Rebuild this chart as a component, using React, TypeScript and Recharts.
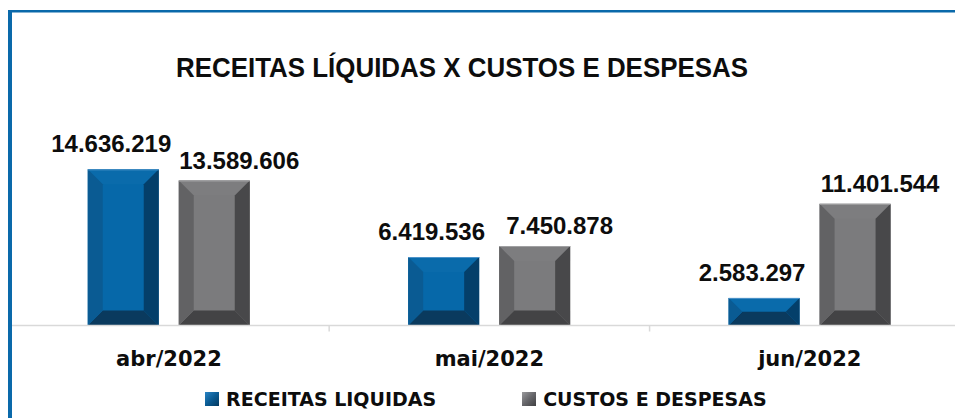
import React from 'react';
import { BarChart, Bar, XAxis, YAxis, Legend, LabelList } from 'recharts';

const categories = ['abr/2022', 'mai/2022', 'jun/2022'];
const receitasLiquidas = [14636219, 6419536, 2583297];
const custosDespesas = [13589606, 7450878, 11401544];
const seriesNames = ['RECEITAS LIQUIDAS', 'CUSTOS E DESPESAS'];
const chartTitle = 'RECEITAS LÍQUIDAS X CUSTOS E DESPESAS';
const yDomain = [0, 16000000];

const data = categories.map((cat, i) => ({
  cat,
  receitas: receitasLiquidas[i],
  custos: custosDespesas[i],
}));

const W = 980;
const H = 418;
const M = { top: 154.8, right: 10, left: 8.75, bottom: 4 };
const PLOT_W = W - M.left - M.right;
const BAND = PLOT_W / categories.length;

const BLUE = {
  face: '#0668A9',
  top: '#0A6BAB',
  left: '#0A5B93',
  right: '#043F6A',
  bottom: '#0A3A5E',
  edge: '#4D93C9',
  legend: 'linear-gradient(135deg, #2A84C4 0%, #0A5B93 50%, #043A60 100%)',
};
const GRAY = {
  face: '#7B7B7D',
  top: '#7D7D7F',
  left: '#626264',
  right: '#48484A',
  bottom: '#434345',
  edge: '#A0A0A2',
  legend: 'linear-gradient(135deg, #9A9A9C 0%, #66666A 50%, #404042 100%)',
};
const PALETTES = [BLUE, GRAY];

const fmt = (v: number) => String(Math.round(v)).replace(/\B(?=(\d{3})+(?!\d))/g, '.');

const pts = (arr: number[][]) => arr.map((p) => p.join(',')).join(' ');

function BevelBar(props: any) {
  const { x, y, width: w, height: h, palette } = props;
  if (!h || h <= 0) return null;
  const b = Math.min(15, h / 2, w / 2);
  return (
    <g>
      <rect x={x} y={y} width={w} height={h} fill={palette.face} />
      <polygon points={pts([[x, y], [x + w, y], [x + w - b, y + b], [x + b, y + b]])} fill={palette.top} />
      <polygon points={pts([[x, y + h], [x + w, y + h], [x + w - b, y + h - b], [x + b, y + h - b]])} fill={palette.bottom} />
      <polygon points={pts([[x, y], [x + b, y + b], [x + b, y + h - b], [x, y + h]])} fill={palette.left} />
      <polygon points={pts([[x + w, y], [x + w - b, y + b], [x + w - b, y + h - b], [x + w, y + h]])} fill={palette.right} />
      <line x1={x} y1={y + 0.5} x2={x + w} y2={y + 0.5} stroke={palette.edge} strokeWidth={1} />
    </g>
  );
}

function DataLabel(props: any) {
  const { x, y, width, value, dx, gap } = props;
  return (
    <text
      x={Number(x) + Number(width) / 2 + dx}
      y={Number(y) - gap}
      textAnchor="middle"
      fontFamily="Liberation Sans, Arial, sans-serif"
      fontWeight="bold"
      fontSize={24}
      fill="#0D0D0D"
    >
      {fmt(Number(value))}
    </text>
  );
}

function AxisTick(props: any) {
  const { x, y, payload, index } = props;
  const last = index === categories.length - 1;
  return (
    <g>
      <line x1={x - BAND / 2} y1={y} x2={x - BAND / 2} y2={y + 6} stroke="#D9D9D9" strokeWidth={1.5} />
      {last && <line x1={x + BAND / 2} y1={y} x2={x + BAND / 2} y2={y + 6} stroke="#D9D9D9" strokeWidth={1.5} />}
      <text
        x={x}
        y={y + 40.5}
        textAnchor="middle"
        fontFamily="DejaVu Sans, sans-serif"
        fontWeight="bold"
        fontSize={21}
        fill="#0D0D0D"
      >
        {payload.value}
      </text>
    </g>
  );
}

function LegendContent(props: any) {
  const payload = [...(props.payload || [])].sort(
    (a: any, b: any) => seriesNames.indexOf(a.value) - seriesNames.indexOf(b.value)
  );
  return (
    <div
      style={{
        height: 30,
        display: 'flex',
        justifyContent: 'center',
        alignItems: 'center',
        paddingRight: 7,
        fontFamily: 'DejaVu Sans, sans-serif',
        fontWeight: 'bold',
        fontSize: 19,
        color: '#0D0D0D',
      }}
    >
      {payload.map((entry: any, i: number) => {
        const pal = PALETTES[Math.max(0, seriesNames.indexOf(entry.value))];
        return (
          <div
            key={entry.value}
            style={{ display: 'flex', alignItems: 'center', marginLeft: i === 0 ? 0 : 86 }}
          >
            <div style={{ width: 14, height: 14, background: pal.legend, marginRight: 7 }} />
            <span style={{ whiteSpace: 'nowrap', lineHeight: '30px' }}>{entry.value}</span>
          </div>
        );
      })}
    </div>
  );
}

export default function App() {
  return (
    <div
      style={{
        position: 'absolute',
        left: 0,
        top: 0,
        width: 955,
        height: 418,
        overflow: 'hidden',
        background: '#ffffff',
      }}
    >
      <BarChart width={W} height={H} data={data} margin={M} barSize={71} barGap={20}>
        <XAxis
          dataKey="cat"
          height={58.5}
          tickSize={0}
          tickMargin={0}
          tickLine={false}
          axisLine={{ stroke: '#D9D9D9', strokeWidth: 1.5 }}
          tick={<AxisTick />}
          interval={0}
        />
        <YAxis hide domain={yDomain} />
        <Legend verticalAlign="bottom" height={30} content={<LegendContent />} />
        <Bar
          dataKey="receitas"
          name={seriesNames[0]}
          fill={BLUE.face}
          isAnimationActive={false}
          shape={(p: any) => <BevelBar {...p} palette={BLUE} />}
        >
          <LabelList dataKey="receitas" content={(p: any) => <DataLabel {...p} dx={-12} gap={17} />} />
        </Bar>
        <Bar
          dataKey="custos"
          name={seriesNames[1]}
          fill={GRAY.face}
          isAnimationActive={false}
          shape={(p: any) => <BevelBar {...p} palette={GRAY} />}
        >
          <LabelList dataKey="custos" content={(p: any) => <DataLabel {...p} dx={25} gap={12} />} />
        </Bar>
      </BarChart>
      <svg
        width={955}
        height={418}
        style={{ position: 'absolute', left: 0, top: 0, pointerEvents: 'none' }}
      >
        <rect x={8} y={10} width={947} height={2.5} fill="#0A69AA" />
        <rect x={8} y={10} width={4} height={408} fill="#0A69AA" />
        <text
          x={176}
          y={77.3}
          textLength={572}
          lengthAdjust="spacingAndGlyphs"
          fontFamily="Liberation Sans, Arial, sans-serif"
          fontWeight="bold"
          fontSize={28}
          fill="#0D0D0D"
        >
          {chartTitle}
        </text>
      </svg>
    </div>
  );
}
